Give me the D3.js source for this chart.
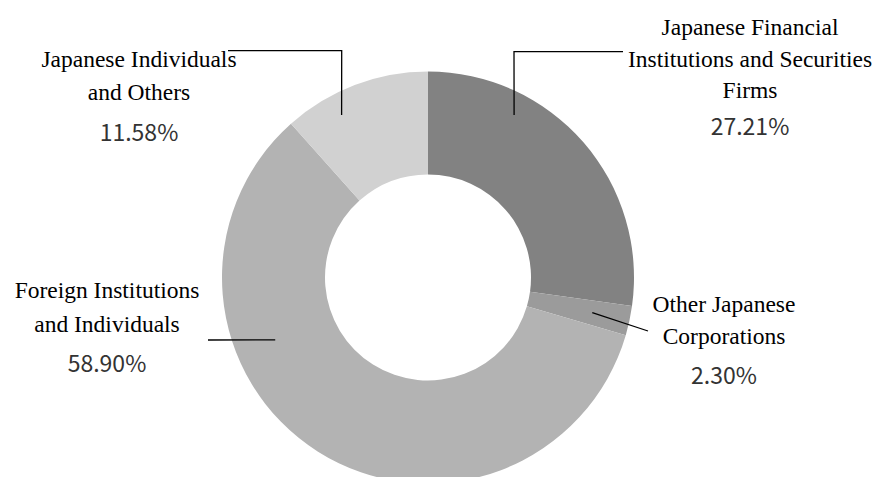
<!DOCTYPE html>
<html>
<head>
<meta charset="utf-8">
<script src="https://cdn.jsdelivr.net/npm/d3@7"></script>
</head>
<body style="margin:0">
<div id="chart"></div>
<script>
// shareholder composition, clockwise from 12 o'clock
const categories = [
    'Japanese Financial Institutions and Securities Firms',
    'Other Japanese Corporations',
    'Foreign Institutions and Individuals',
    'Japanese Individuals and Others'
];
const shares = [27.21, 2.30, 58.90, 11.58];
const labelLines = [
    ['Japanese Financial', 'Institutions and Securities', 'Firms'],
    ['Other Japanese', 'Corporations'],
    ['Foreign Institutions', 'and Individuals'],
    ['Japanese Individuals', 'and Others']
];
const colors = ['#828282', '#9b9b9b', '#b3b3b3', '#d1d1d1'];

// label placement (not data): text centre, first baseline, line gap, leader path
const layout = [
    { x: 750, y: 35, gap: 31.5, pctGap: 37, leader: { angle: 27.9, r: 184, elbow: [514, 51.7], end: [623, 51.7] } },
    { x: 724, y: 312, gap: 31.5, pctGap: 40, leader: { angle: 102.1, r: 168, end: [648, 331] } },
    { x: 107, y: 298, gap: 33.5, pctGap: 40, leader: { angle: 247.8, r: 165, end: [208, 340] } },
    { x: 139, y: 67, gap: 33, pctGap: 41, leader: { angle: 332, r: 184, elbow: [341.7, 50.7], end: [228, 50.7] } }
];

const W = 876;
const H = 477;
const cx = 428;
const cy = 277.5;
const outerR = 206;
const innerR = 103;

const svg = d3.select('#chart')
    .append('svg')
    .attr('width', W)
    .attr('height', H);

// labels first
const fmt = (v) => v.toFixed(2) + '%';
layout.forEach((l, i) => {
    const lines = labelLines[i];
    lines.forEach((t, k) => {
        svg.append('text')
            .attr('x', l.x)
            .attr('y', l.y + k * l.gap)
            .attr('text-anchor', 'middle')
            .attr('font-family', 'Liberation Serif')
            .attr('font-size', 23.5)
            .text(t);
    });
    svg.append('text')
        .attr('x', l.x)
        .attr('y', l.y + (lines.length - 1) * l.gap + l.pctGap)
        .attr('text-anchor', 'middle')
        .attr('font-family', 'Noto Sans CJK JP')
        .attr('font-size', 23)
        .attr('fill', '#333')
        .text(fmt(shares[i]));
});

const rows = categories.map((c, i) => ({ name: c, value: shares[i], color: colors[i] }));

const pie = d3.pie().value((d) => d.value).sort(null);
const arc = d3.arc().innerRadius(innerR).outerRadius(outerR);

const g = svg.append('g').attr('transform', `translate(${cx},${cy})`);

g.selectAll('path')
    .data(pie(rows))
    .join('path')
    .attr('d', arc)
    .attr('fill', (d) => d.data.color);

// leader lines
const toRad = (deg) => deg * Math.PI / 180;
layout.forEach((l) => {
    const [px, py] = d3.pointRadial(toRad(l.leader.angle), l.leader.r);
    const pts = [[cx + px, cy + py]];
    if (l.leader.elbow) pts.push(l.leader.elbow);
    pts.push(l.leader.end);
    svg.append('path')
        .attr('d', d3.line()(pts))
        .attr('fill', 'none')
        .attr('stroke', '#000')
        .attr('stroke-width', 1.3);
});
</script>
</body>
</html>
